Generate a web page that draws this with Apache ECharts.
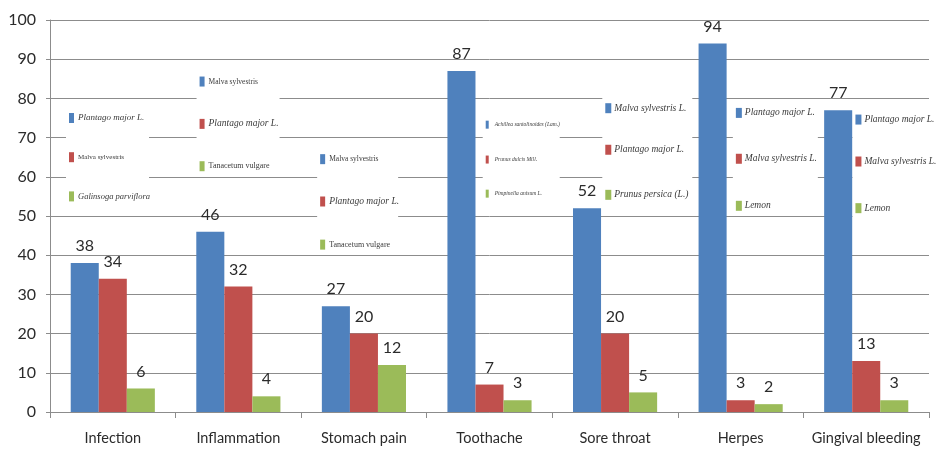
<!DOCTYPE html>
<html>
<head>
<meta charset="utf-8">
<script src="https://cdn.jsdelivr.net/npm/echarts@6/dist/echarts.min.js"></script>
<style>
  html, body { margin: 0; padding: 0; background: #fff; }
  #chart { width: 938px; height: 449px; }
</style>
</head>
<body>
<div id="chart"></div>
<script>
// Conditions and the number of reports for the three most cited plants in each
const categories = ['Infection', 'Inflammation', 'Stomach pain', 'Toothache', 'Sore throat', 'Herpes', 'Gingival bleeding'];
const firstPlant  = [38, 46, 27, 87, 52, 94, 77];
const secondPlant = [34, 32, 20, 7, 20, 3, 13];
const thirdPlant  = [6, 4, 12, 3, 5, 2, 3];
const yTicks = [0, 10, 20, 30, 40, 50, 60, 70, 80, 90, 100];

// Plant names listed beside each group (first, second, third bar)
const plantNames = [
  ['Plantago major L.', 'Malva sylvestris', 'Galinsoga parviflora'],
  ['Malva sylvestris', 'Plantago major L.', 'Tanacetum vulgare'],
  ['Malva sylvestris', 'Plantago major L.', 'Tanacetum vulgare'],
  ['Achillea santolinoides (Lam.)', 'Prunus dulcis Mill.', 'Pimpinella anisum L.'],
  ['Malva sylvestris L.', 'Plantago major L.', 'Prunus persica (L.)'],
  ['Plantago major L.', 'Malva sylvestris L.', 'Lemon'],
  ['Plantago major L.', 'Malva sylvestris L.', 'Lemon']
];

const colors = ['#4F81BD', '#C0504D', '#9BBB59'];

// Placement of each name box: px offset from the band start, box width,
// box top/bottom and row centres in axis units, font sizes and italics
const noteLayout = [
  { dx: 16, w: 83, top: 79, bottom: 51, rows: [75, 65, 55],       sizes: [9, 7, 8.5],   italic: [true, false, true],  mark: [5, 10] },
  { dx: 21, w: 83, top: 89, bottom: 61, rows: [84.3, 73.5, 62.7], sizes: [7.5, 9.5, 8], italic: [false, true, false], mark: [5, 10] },
  { dx: 16, w: 81, top: 69, bottom: 41, rows: [64.5, 53.7, 42.7], sizes: [7.5, 9.5, 8], italic: [false, true, false], mark: [5, 10] },
  { dx: 56, w: 77, top: 79, bottom: 51, rows: [73.3, 64.4, 55.7], sizes: [5.5, 5.5, 5.5], italic: [true, true, true], mark: [3, 8] },
  { dx: 50, w: 90, top: 89, bottom: 51, rows: [77.5, 66.9, 55.4], sizes: [9.5, 9.5, 9.5], italic: [true, true, true], mark: [6, 10] },
  { dx: 55, w: 85, top: 79, bottom: 51, rows: [76.3, 64.6, 52.6], sizes: [9.5, 9.5, 9.5], italic: [true, true, true], mark: [6, 10] },
  { dx: 49, w: 90, top: 79, bottom: 44, rows: [74.6, 63.9, 52.0], sizes: [9.5, 9.5, 9.5], italic: [true, true, true], mark: [6, 10] }
];

const sansFont = 'Lato';
const serifFont = 'Liberation Serif';

function renderNotes(params, api) {
  const i = api.value(0);
  const lay = noteLayout[i];
  const band = api.size([1, 0])[0];
  const centre = api.coord([i, 0])[0];
  const left = centre - band / 2 + lay.dx;
  const yTop = api.coord([i, lay.top])[1];
  const yBottom = api.coord([i, lay.bottom])[1];
  const children = [{
    type: 'rect',
    shape: { x: left, y: yTop, width: lay.w, height: yBottom - yTop },
    style: { fill: '#ffffff' }
  }];
  plantNames[i].forEach(function (name, k) {
    const y = api.coord([i, lay.rows[k]])[1];
    children.push({
      type: 'rect',
      shape: { x: left + 3, y: y - lay.mark[1] / 2, width: lay.mark[0], height: lay.mark[1] },
      style: { fill: colors[k] }
    });
    children.push({
      type: 'text',
      style: {
        x: left + 12,
        y: y,
        text: name,
        fill: '#3a3a3a',
        fontFamily: serifFont,
        fontSize: lay.sizes[k],
        fontStyle: lay.italic[k] ? 'italic' : 'normal',
        verticalAlign: 'middle',
        align: 'left'
      }
    });
  });
  return { type: 'group', children: children };
}

const valueLabel = {
  show: true,
  position: 'top',
  distance: 9,
  fontFamily: sansFont,
  fontSize: 16,
  color: '#2b2b2b'
};

function barSeries(name, values, color) {
  return {
    name: name,
    type: 'bar',
    data: values,
    barGap: '0%',
    barCategoryGap: '33%',
    itemStyle: { color: color },
    label: valueLabel,
    z: 3
  };
}

const chart = echarts.init(document.getElementById('chart'), null, { renderer: 'canvas' });
chart.setOption({
  backgroundColor: '#ffffff',
  animation: false,
  grid: { left: 50, right: 9, top: 20, bottom: 37 },
  xAxis: {
    type: 'category',
    data: categories,
    axisLine: { lineStyle: { color: '#8c8c8c', width: 1 } },
    axisTick: { show: true, length: 6, lineStyle: { color: '#8c8c8c' } },
    axisLabel: { interval: 0, fontFamily: sansFont, fontSize: 14.5, color: '#2b2b2b', margin: 19 }
  },
  yAxis: {
    type: 'value',
    min: yTicks[0],
    max: yTicks[yTicks.length - 1],
    interval: yTicks[1] - yTicks[0],
    axisLine: { show: true, lineStyle: { color: '#8c8c8c', width: 1 } },
    axisTick: { show: true, length: 4, lineStyle: { color: '#8c8c8c' } },
    axisLabel: { fontFamily: sansFont, fontSize: 16, color: '#2b2b2b', margin: 14 },
    splitLine: { show: true, lineStyle: { color: '#8c8c8c', width: 1 } }
  },
  series: [
    {
      type: 'custom',
      renderItem: renderNotes,
      data: categories.map(function (c, i) { return [i]; }),
      encode: { x: 0 },
      silent: true,
      clip: false,
      z: 1
    },
    barSeries('first', firstPlant, colors[0]),
    barSeries('second', secondPlant, colors[1]),
    barSeries('third', thirdPlant, colors[2])
  ]
});
</script>
</body>
</html>
